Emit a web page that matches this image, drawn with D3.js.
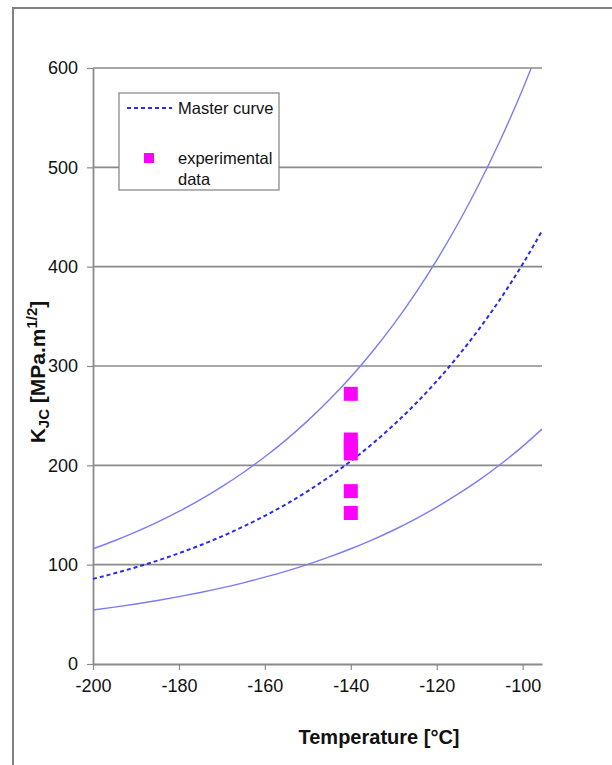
<!DOCTYPE html>
<html><head><meta charset="utf-8">
<script src="https://cdn.jsdelivr.net/npm/d3@7"></script>
<style>body{margin:0;background:#fff}svg{display:block}text{font-family:"Liberation Sans",Arial,sans-serif}</style>
</head><body><svg id="c" width="612" height="765"></svg>
<script>
// ---- data ----
const temps = [-200,-195,-190,-185,-180,-175,-170,-165,-160,-155,-150,-145,-140,-135,-130,-125,-120,-115,-110,-105,-100];
const masterK = [85.7,91.3,97.4,104.1,111.5,119.6,128.5,138.4,149.2,161.0,174.1,188.5,204.2,221.6,240.7,261.7,284.8,310.2,338.1,368.8,402.6];
const masterEnd = [-95.5, 436];
const upperK = [116.0,124.1,133.0,142.8,153.6,165.4,178.5,192.8,208.6,225.9,245.0,266.0,289.0,314.4,342.2,372.9,406.6,443.7,484.5,529.3,578.6];
const upperEnd = [-98, 600];
const lowerK = [54.4,57.3,60.4,63.9,67.8,72.0,76.6,81.7,87.4,93.5,100.3,107.8,116.0,125.0,134.9,145.9,157.9,171.2,185.6,201.6,219.1];
const lowerEnd = [-95.5, 236.5];
const expT = [-140,-140,-140,-140,-140,-140];
const expK = [272,226,219,212,174,152];
const xTicks = [-200,-180,-160,-140,-120,-100];
const yTicks = [0,100,200,300,400,500,600];

const svg = d3.select("#c");
const x = d3.scaleLinear().domain([-200,-95.5]).range([93,542]);
const y = d3.scaleLinear().domain([0,600]).range([664,68]);

// outer frame
svg.append("path").attr("d","M13,765 L13,8 L612,8").attr("fill","none").attr("stroke","#808080").attr("stroke-width",2);

// gridlines
svg.append("g").selectAll("line").data(yTicks.filter(d=>d>0)).join("line")
  .attr("x1",x(-200)).attr("x2",x(-95.5)).attr("y1",d=>y(d)).attr("y2",d=>y(d))
  .attr("stroke","#8a8a8a").attr("stroke-width",1.6);

// axes
const fmt = d => String(d);
const xa = svg.append("g").attr("transform",`translate(0,${y(0)})`)
  .call(d3.axisBottom(x).tickValues(xTicks).tickFormat(fmt).tickSize(6).tickPadding(9).tickSizeOuter(0));
const ya = svg.append("g").attr("transform",`translate(${x(-200)},0)`)
  .call(d3.axisLeft(y).tickValues(yTicks).tickFormat(fmt).tickSize(6).tickPadding(9).tickSizeOuter(0));
[xa,ya].forEach(a=>{
  a.select(".domain").attr("stroke","#8a8a8a").attr("stroke-width",1.8);
  a.selectAll(".tick line").attr("stroke","#8a8a8a").attr("stroke-width",1.2);
  a.selectAll(".tick text").attr("font-size",18).attr("fill","#111").attr("font-family","Liberation Sans, Arial, sans-serif");
});

// curves
const line = d3.line().x(d=>x(d[0])).y(d=>y(d[1])).curve(d3.curveMonotoneX);
const mk = (ks,end)=>temps.map((t,i)=>[t,ks[i]]).concat([end]);
svg.append("path").datum(mk(upperK,upperEnd)).attr("d",line).attr("fill","none").attr("stroke","#7c7cf4").attr("stroke-width",1.4);
svg.append("path").datum(mk(lowerK,lowerEnd)).attr("d",line).attr("fill","none").attr("stroke","#7c7cf4").attr("stroke-width",1.4);
svg.append("path").datum(mk(masterK,masterEnd)).attr("d",line).attr("fill","none").attr("stroke","#2a2af0").attr("stroke-width",2).attr("stroke-dasharray","4,3");

// experimental points
svg.append("g").selectAll("rect").data(expT.map((t,i)=>[t,expK[i]])).join("rect")
  .attr("x",d=>x(d[0])-7).attr("y",d=>y(d[1])-7).attr("width",14).attr("height",14).attr("fill","#ff00ff");

// legend
const lg = svg.append("g");
lg.append("rect").attr("x",119).attr("y",93).attr("width",160).attr("height",97).attr("fill","#fff").attr("stroke","#8a8a8a").attr("stroke-width",1.3);
lg.append("line").attr("x1",127).attr("x2",172).attr("y1",108).attr("y2",108).attr("stroke","#2a2af0").attr("stroke-width",2).attr("stroke-dasharray","4,3");
lg.append("text").attr("x",178).attr("y",114).attr("font-size",16.5).attr("fill","#111").text("Master curve");
lg.append("rect").attr("x",144).attr("y",153).attr("width",10).attr("height",10).attr("fill","#ff00ff");
lg.append("text").attr("x",178).attr("y",164).attr("font-size",16.5).attr("fill","#111").text("experimental");
lg.append("text").attr("x",178).attr("y",185).attr("font-size",16.5).attr("fill","#111").text("data");

// axis titles
svg.append("text").attr("x",379).attr("y",744).attr("text-anchor","middle").attr("font-size",20).attr("font-weight","bold").attr("fill","#111").text("Temperature [°C]");
const yt = svg.append("text").attr("transform","translate(45,372) rotate(-90)").attr("text-anchor","middle").attr("font-size",21).attr("font-weight","bold").attr("fill","#111");
yt.append("tspan").text("K");
yt.append("tspan").attr("font-size",15).attr("dy",4).text("JC");
yt.append("tspan").attr("dy",-4).text(" [MPa.m");
yt.append("tspan").attr("font-size",15).attr("dy",-8).text("1/2");
yt.append("tspan").attr("dy",8).text("]");
</script></body></html>
